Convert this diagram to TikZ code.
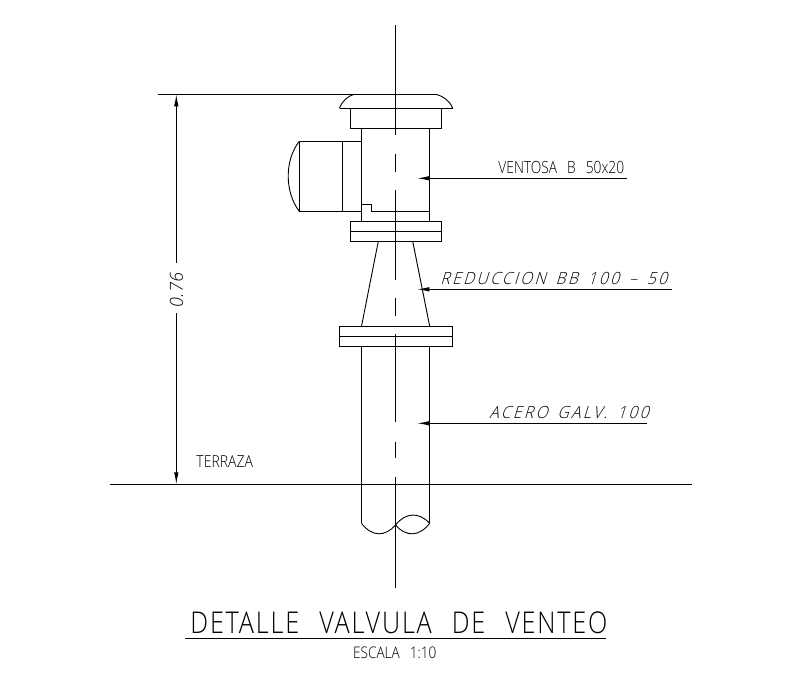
\documentclass[tikz,border=0pt]{standalone}
\usepackage{fontspec}
\setmainfont{Open Sans Light}
\usetikzlibrary{arrows.meta}

% size, stretch, letter space, word space
\newcommand{\cadfont}[4]{\fontsize{#1}{#1}\selectfont\addfontfeature{FakeStretch=#2,LetterSpace=#3}\spaceskip=#4pt\relax}

\tikzset{
    cad/.style={line width=0.9pt,line cap=butt},
    leader/.style={cad,-{Latex[length=12pt,width=4.5pt]}},
    label/.style={inner sep=0pt,anchor=base west},
    slanted/.style={label,xslant=0.3,transform shape}
}

\begin{document}
\begin{tikzpicture}[x=1pt,y=-1pt,every node/.style={inner sep=0pt}]
\useasboundingbox (0,0) rectangle (801,680);
\begin{scope}[cad]
    % Center line:
    \draw (395.5,25) -- (395.5,135);
    \draw (395.5,154) -- (395.5,172);
    \draw (395.5,190) -- (395.5,280);
    \draw (395.5,298) -- (395.5,316);
    \draw (395.5,334) -- (395.5,421.7);
    \draw (395.5,441.7) -- (395.5,458.3);
    \draw (395.5,477) -- (395.5,588);

    % Cap:
    \draw (158,94.3) -- (436,94.3);
    \draw (339.5,108.3) .. controls (342,101) and (348,96) .. (354,94.3);
    \draw (436,94.3) .. controls (443,96) and (450,101) .. (452.7,108.3);
    \draw (339.5,108.3) -- (452.7,108.3);
    \draw (350.3,108.3) rectangle (441.7,128.3);

    % Body:
    \draw (361.3,128.3) rectangle (429.7,221.3);
    \draw (361.3,204.3) -- (371.3,204.3) -- (371.3,211.3) -- (429.7,211.3);

    % Side box:
    \draw (361.3,141.3) -- (299.3,141.3) -- (299.3,211.3) -- (361.3,211.3);
    \draw (342.3,141.3) -- (342.3,211.3);
    \draw (299.3,141.3) .. controls (284.5,160) and (284.5,192) .. (299.3,211.3);

    % Flanges:
    \draw (350.3,221.3) rectangle (441.7,241.3);
    \draw (350.3,231.3) -- (441.7,231.3);
    \draw (339.3,326.3) rectangle (452.3,346.3);
    \draw (339.3,336.3) -- (452.3,336.3);

    % Cone:
    \draw (378.3,241.3) -- (361.5,326.3);
    \draw (412.7,241.3) -- (429.7,326.3);

    % Pipe:
    \draw (361.5,346.3) -- (361.5,523.3);
    \draw (429.7,346.3) -- (429.7,523.3);
    \draw (361.5,523.3) .. controls (372,537) and (385,537) .. (395.5,525);
    \draw (395.5,525) .. controls (406,537) and (419,537) .. (429.7,523.3);
    \draw (395.5,525) .. controls (406,512) and (419,512) .. (429.7,523.3);

    % Floor:
    \draw (110,484.3) -- (692,484.3);

    % Dimension:
    \coordinate (dimtop) at (176.3,94.3);
    \coordinate (dimbot) at (176.3,484.3);
    \node (dimtext) at (176.5,290) [rotate=90,font=\cadfont{18}{1}{0}{5}] {\textit{0.76}};
    \draw [leader] (176.3,263) -- (dimtop);
    \draw [leader] (176.3,313) -- (dimbot);
    \node (terraza) at (196,467) [label,font=\cadfont{16.5}{0.85}{0}{5}] {TERRAZA};

    % Leaders:
    \node (ventosa) at (498,173) [label,font=\cadfont{16.8}{0.82}{0}{10}] {VENTOSA B 50x20};
    \draw [leader] (626.7,178.3) -- (417.3,178.3);
    \node (reduccion) at (440,284) [slanted,font=\cadfont{16.8}{0.93}{14}{10}] {REDUCCION BB 100 -- 50};
    \draw [leader] (671.7,289.3) -- (417.3,289.3);
    \node (acero) at (489,418.3) [slanted,font=\cadfont{16.8}{0.93}{14}{10}] {ACERO GALV. 100};
    \draw [leader] (646.7,423.3) -- (417.3,423.3);

    % Title:
    \node (titulo) at (190,633) [label,font=\cadfont{30}{0.84}{6}{20}] {DETALLE VALVULA DE VENTEO};
    \draw (185,638.3) -- (606,638.3);
    \node (escala) at (352.7,658) [label,font=\cadfont{16}{0.85}{0}{10}] {ESCALA 1:10};
\end{scope}
\end{tikzpicture}
\end{document}
